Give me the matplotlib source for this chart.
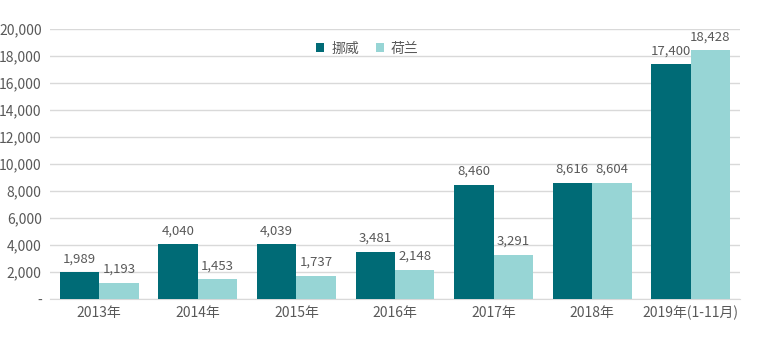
import numpy as np
import matplotlib.pyplot as plt
from matplotlib.ticker import FuncFormatter

plt.rcParams['font.family'] = ['Noto Sans CJK SC', 'DejaVu Sans']

years = ["2013年", "2014年", "2015年", "2016年", "2017年", "2018年", "2019年(1-11月)"]
norway = [1989, 4040, 4039, 3481, 8460, 8616, 17400]
netherlands = [1193, 1453, 1737, 2148, 3291, 8604, 18428]

c_nor = "#006B76"
c_nl = "#97D5D5"
grey = "#595959"

fig = plt.figure(figsize=(7.57, 3.45), dpi=100)
ax = fig.add_axes([50 / 757, 46 / 345, 690 / 757, 270 / 345])

x = np.arange(len(years))
w = 0.4
b1 = ax.bar(x - w / 2, norway, w, color=c_nor, label="挪威", zorder=3)
b2 = ax.bar(x + w / 2, netherlands, w, color=c_nl, label="荷兰", zorder=3)

for bars in (b1, b2):
    for bar in bars:
        v = bar.get_height()
        ax.annotate(f"{v:,.0f}", (bar.get_x() + bar.get_width() / 2, v),
                    xytext=(0, 5), textcoords="offset points",
                    ha="center", va="bottom", fontsize=9.5, color=grey)

ax.set_xlim(-0.5, len(years) - 0.5)
ax.set_ylim(0, 20000)
ax.set_yticks(np.arange(0, 20001, 2000))
ax.yaxis.set_major_formatter(FuncFormatter(lambda v, p: "-" if v == 0 else f"{v:,.0f}"))
ax.set_xticks(x)
ax.set_xticklabels(years)
ax.tick_params(axis="both", length=0, labelsize=10, colors=grey)
ax.tick_params(axis="x", pad=5)
ax.tick_params(axis="y", pad=6)
ax.grid(axis="y", color="#D9D9D9", lw=1, zorder=0)
for s in ("top", "right", "left"):
    ax.spines[s].set_visible(False)
ax.spines["bottom"].set_color("#D9D9D9")

ax.legend(loc="upper center", bbox_to_anchor=(0.46, 1.0), ncol=2, frameon=False,
          fontsize=10, handlelength=0.6, handleheight=0.6, columnspacing=1.2,
          handletextpad=0.5, labelcolor=grey)

fig.savefig("out.png", dpi=100)
